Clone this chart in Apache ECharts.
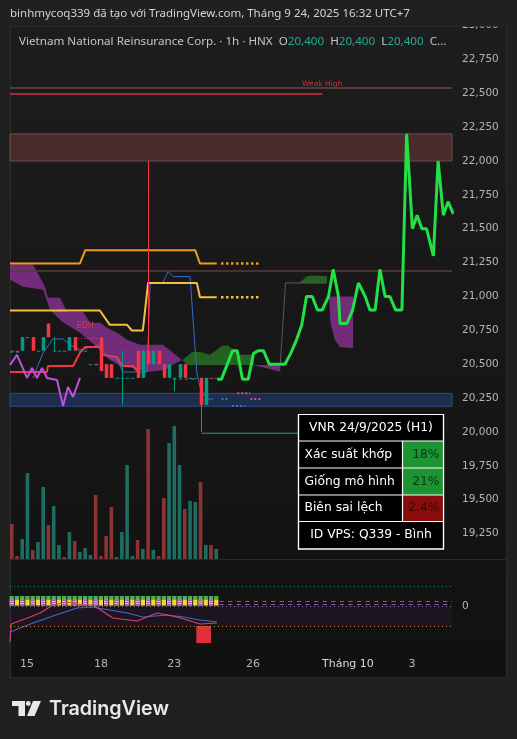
<!DOCTYPE html>
<html>
<head>
<meta charset="utf-8">
<script src="https://cdn.jsdelivr.net/npm/echarts@6.0.0/dist/echarts.min.js"></script>
<style>
html,body{margin:0;padding:0;background:#202020;overflow:hidden;}
#chart{width:517px;height:739px;}
</style>
</head>
<body>
<div id="chart"></div>
<script>
// ================= DATA =================
const timeLabelPos = [2.9, 17.0, 31.0, 46.0, 64.1, 76.3];
const timeLabels = ['15', '18', '23', '26', 'Tháng 10', '3'];

const barIndex = [0,1,2,3,4,5,6,7,8,9,10,11,12,13,14,15,16,17,18,19,20,21,22,23,24,25,26,27,28,29,30,31,32,33,34,35,36,37,38,39];
const candleOpen  = [20600,20600,20600,20700,20700,20600,20600,20800,20600,20600,20600,20600,20700,20600,20600,20500,20500,20700,20500,20500,20400,20400,20400,20400,20600,20400,20600,20500,20600,20500,20400,20400,20400,20500,20400,20400,20400,20200,20400,20400];
const candleClose = [20600,20600,20700,20700,20600,20600,20700,20700,20600,20600,20600,20700,20600,20600,20600,20500,20500,20450,20400,20400,20400,20400,20400,20400,20400,20600,20500,20600,20500,20400,20500,20400,20500,20400,20400,20400,20200,20400,20400,20400];
const candleHigh  = [20600,20600,20700,20700,20700,20600,20700,20800,20700,20600,20600,20700,20700,20600,20600,20500,20500,20700,20500,20500,20400,20600,20400,20400,20600,20600,22000,20600,20600,20500,20500,20400,20500,20500,20400,20400,20400,20400,20400,20400];
const candleLow   = [20600,20600,20600,20700,20600,20600,20600,20700,20600,20600,20600,20600,20600,20600,20600,20500,20500,20450,20400,20400,20400,20200,20400,20400,20400,20400,20500,20500,20500,20400,20400,20300,20400,20400,20400,20400,20000,20200,20400,20400];
const barDir      = [-1,-1,1,1,-1,1,1,-1,1,1,-1,1,-1,1,1,1,-1,-1,-1,-1,1,1,1,1,-1,1,-1,1,-1,-1,1,1,1,-1,1,1,-1,1,-1,1];
const volume      = [10500,900,6000,25800,2700,5100,21600,10200,15900,4200,600,8100,5400,2100,3300,1200,19200,900,6900,15600,600,8100,28200,900,5700,3000,39000,2700,900,18300,34800,39900,28200,15000,17400,17100,23100,4200,4200,3000];

// projected path (green)
const projIndex = [39.2,40.0,41.0,42.1,43.0,44.0,45.1,46.1,47.0,48.0,49.1,50.2,51.1,52.1,53.2,54.3,55.3,56.2,57.3,58.3,59.2,60.4,61.3,62.3,62.6,63.9,65.0,66.1,67.4,68.3,69.3,70.2,71.2,72.1,73.2,74.4,75.3,76.4,77.3,78.2,79.1,80.4,81.3,82.3,83.2,84.2];
const projPrice = [20390,20390,20490,20600,20600,20390,20390,20580,20600,20600,20500,20500,20500,20500,20580,20680,20790,21000,21000,20900,20900,21000,21200,21000,20800,20800,20900,21100,21000,20900,20900,21200,21000,21000,20900,20900,22200,21500,21600,21500,21500,21300,22000,21600,21700,21610];

// step lines
const orangeIndex = [-0.33,13.0,14.0,35.0,35.9,39.1];
const orangePrice = [21243,21243,21341,21341,21243,21243];
const orangeExtIndex = [39.9,47.5];
const orangeExtPrice = [21243,21243];
const yellowIndex = [-0.33,16.8,18.7,22.0,22.9,25.0,26.0,35.3,35.9,39.1];
const yellowPrice = [20897,20897,20791,20791,20749,20749,21100,21100,20995,20995];
const yellowExtIndex = [39.9,47.5];
const yellowExtPrice = [20995,20995];

const blueIndex = [4.06,5.97,7.87,9.78,11.1,13.0,16.8,18.2,20.1,21.2,25.8,26.4,28.8,29.8,30.8,34.0,35.3,35.9,37.2,38.4];
const bluePrice = [20399,20584,20687,20687,20643,20606,20643,20554,20532,20443,20443,21102,21102,21184,21147,21147,20436,20332,20243,20243];
const redIndex = [-0.33,6.7,6.9,11.7,13.0,14.0,16.8,17.4,20.1,21.0,23.1,24.1];
const redPrice = [20443,20443,20487,20487,20584,20628,20628,20569,20554,20487,20487,20443];
const magIndex = [-0.33,1.0,2.92,3.87,4.82,5.78,6.73,8.64,9.78,10.73,11.69,13.0];
const magPrice = [20495,20569,20399,20473,20399,20473,20399,20384,20191,20332,20258,20399];

// clouds  [index, price]
const cloudPurple1 = [[-0.33,21236],[4.06,21236],[6.35,21072],[6.92,20991],[9.21,20991],[10.54,20887],[13.59,20887],[14.93,20806],[16.84,20806],[18.17,20769],[20.08,20732],[21.98,20680],[24.46,20643],[28.85,20643],[32.47,20532],
  [30.56,20495],[29.23,20458],[25.8,20443],[23.13,20473],[21.22,20480],[18.74,20532],[16.26,20628],[13.02,20732],[9.59,20813],[7.3,20902],[5.97,21050],[2.15,21072],[-0.33,21124]];
const cloudGreen1 = [[32.5,20530],[34.4,20590],[35.9,20590],[37.8,20570],[40.1,20635],[41.2,20640],[42.2,20605],[43.5,20570],[46.2,20570],[46.2,20495],[33.5,20495]];
const cloudPurple2 = [[46.0,20495],[47.6,20480],[51.2,20445],[51.2,20495]];
const cloudGreen2 = [[54.8,21100],[56.3,21150],[57.3,21155],[60.1,21150],[60.1,21100]];
const cloudPurple3 = [[60.5,21000],[65.1,21000],[65.1,20620],[62.6,20625],[61.6,20680],[60.8,20800]];
const greyIndex = [51.2,52.2,60.1];
const greyPrice = [20495,21100,21100];

// levels
const weakHigh = 22495, weakHighEnd = 59.2;
const topLevel = 22540, midLevel = 21190;
const supplyZone = [22000, 22200];
const demandZone = [20190, 20285];
const eqhLevel = 20695, eqhFrom = 12.1, eqhTo = 16.3;
const tealDash = [[-0.33,2.0,20590],[15.8,17.0,20500],[30.8,35.3,20390]];
const calloutIndex = [36.2,54.6], calloutPrice = [19991,19991];
const blueDots = [[40.0,41.5,20243],[42.0,44.5,20191]];
const pinkDots = [[43.0,45.5,20286],[45.5,47.5,20243]];

// indicator pane
const oscBlueIndex = [-0.33,4.06,7.87,12.45,15.3,18.7,22.0,25.0,29.6,32.7,35.9,39.1];
const oscBlue      = [-26,-17,-10,-2,-1,-4,-7,-11,-9,-11,-14,-16];
const oscRedIndex  = [-0.33,-0.1,3.5,5.4,7.87,10.5,13.6,15.5,19.3,23.9,27.7,31.5,35.9,39.1];
const oscRed       = [-36,-18,-11,-7,1,4,1,1,-12,-15,-7,-11,-18,-17];
const stripMark    = [1,0,1,0,1,0,1,0,1,0,1,0,1,0,1,0,1,0,1,0,1,0,1,0,1,0,1,0,1,0,1,0,1,0,1,0,1,0,1,0];
const histBlock    = [[35.2,38.0,-20,-37]];

// table
const tableTitle = 'VNR 24/9/2025 (H1)';
const tableRows = [['Xác suất khớp','18%','g'],['Giống mô hình','21%','g'],['Biên sai lệch','2.4%','r']];
const tableFooter = 'ID VPS: Q339 - Bình';

// ================= CHART =================
const UP = '#089981', DN = '#f23645';
const X_MIN = -0.33, X_MAX = 83.95;

function fitFont(text, family, weight, target) {
  const c = document.createElement('canvas').getContext('2d');
  c.font = weight + ' 100px "' + family + '"';
  return 100 * target / c.measureText(text).width;
}
const pairs = (xs, ys) => xs.map((x, k) => [x, ys[k]]);

function polySeries(pts, fill) {
  return {
    type: 'custom', xAxisIndex: 0, yAxisIndex: 0, silent: true, z: 1,
    data: [pts[0]],
    renderItem: (params, api) => ({
      type: 'polygon',
      shape: { points: pts.map(p => api.coord(p)) },
      style: { fill: fill }
    })
  };
}
function lineSeries(data, color, width, type, z, xi, yi) {
  return {
    type: 'line', xAxisIndex: xi || 0, yAxisIndex: yi || 0, data: data, symbol: 'none',
    silent: true, z: z || 3, animation: false,
    lineStyle: { color: color, width: width, type: type || 'solid', cap: 'butt' }
  };
}

const series = [];
// marker series (zones & levels)
series.push({
  type: 'line', xAxisIndex: 0, yAxisIndex: 0, data: [], silent: true, z: 1,
  markArea: {
    silent: true,
    data: [
      [{ yAxis: supplyZone[0], itemStyle: { color: 'rgba(105,55,55,0.6)', borderColor: '#6e4a4a', borderWidth: 1 } }, { yAxis: supplyZone[1] }],
      [{ yAxis: demandZone[0], itemStyle: { color: 'rgba(38,66,120,0.55)', borderColor: '#2c4c86', borderWidth: 1 } }, { yAxis: demandZone[1] }]
    ]
  },
  markLine: {
    silent: true, symbol: ['none', 'none'], label: { show: false },
    data: [
      { yAxis: topLevel, lineStyle: { color: '#553a3a', width: 2, type: 'solid' } },
      { yAxis: midLevel, lineStyle: { color: '#583a3a', width: 1.5, type: 'solid' } },
      [{ coord: [X_MIN, weakHigh], lineStyle: { color: '#d3303e', width: 1.5, type: 'solid' } }, { coord: [weakHighEnd, weakHigh] }],
      [{ coord: [eqhFrom, eqhLevel], lineStyle: { color: '#e0405a', width: 1, type: [1, 2] } }, { coord: [eqhTo, eqhLevel] }]
    ]
  },
  markPoint: {
    silent: true, symbolSize: 0,
    data: [
      { coord: [weakHighEnd, weakHigh], label: { show: true, formatter: 'Weak High', position: 'top', distance: 6, color: '#c2394a', fontSize: 7.5, fontFamily: 'DejaVu Sans' } },
      { coord: [14.0, 20784], label: { show: true, formatter: 'EQH', position: 'inside', color: '#d83a5c', fontSize: 8, fontFamily: 'DejaVu Sans' } }
    ]
  }
});
// clouds
series.push(polySeries(cloudPurple1, 'rgba(140,50,150,0.78)'));
series.push(polySeries(cloudGreen1, 'rgba(40,110,35,0.85)'));
series.push(polySeries(cloudPurple2, 'rgba(140,50,150,0.78)'));
series.push(polySeries(cloudGreen2, 'rgba(40,110,35,0.85)'));
series.push(polySeries(cloudPurple3, 'rgba(140,50,150,0.78)'));
series.push(lineSeries(pairs(greyIndex, greyPrice), '#5a5a5a', 1, 'solid', 2));
// dashed teal markers
tealDash.forEach(d => series.push(lineSeries([[d[0], d[2]], [d[1], d[2]]], '#1f9a88', 1, [3, 3], 3)));
// step lines
series.push(lineSeries(pairs(blueIndex, bluePrice), '#3469d4', 1, 'solid', 3));
series.push(lineSeries(pairs(orangeIndex, orangePrice), '#f09a1c', 2, 'solid', 4));
series.push(lineSeries(pairs(orangeExtIndex, orangeExtPrice), '#f09a1c', 2.5, [2.5, 2.5], 4));
series.push(lineSeries(pairs(yellowIndex, yellowPrice), '#f3c23a', 2, 'solid', 4));
series.push(lineSeries(pairs(yellowExtIndex, yellowExtPrice), '#f3c23a', 2.5, [2.5, 2.5], 4));
series.push(lineSeries(pairs(redIndex, redPrice), '#f23645', 2, 'solid', 4));
series.push(lineSeries(pairs(magIndex, magPrice), '#c150dc', 2, 'solid', 4));
blueDots.forEach(d => series.push(lineSeries([[d[0], d[2]], [d[1], d[2]]], '#3b6fe0', 2, [2, 2], 4)));
pinkDots.forEach(d => series.push(lineSeries([[d[0], d[2]], [d[1], d[2]]], '#d0508a', 2, [2, 2], 4)));
series.push(lineSeries(pairs(calloutIndex, calloutPrice), '#1aa38c', 1, 'solid', 4));
// candles
series.push({
  type: 'custom', xAxisIndex: 0, yAxisIndex: 0, silent: true, z: 5,
  data: barIndex.map((x, k) => [x, candleOpen[k], candleClose[k], candleLow[k], candleHigh[k], barDir[k]]),
  encode: { x: 0, y: [1, 2, 3, 4] },
  renderItem: (params, api) => {
    const i = api.value(0), o = api.value(1), c = api.value(2), l = api.value(3), h = api.value(4), d = api.value(5);
    const pO = api.coord([i, o]), pC = api.coord([i, c]), pL = api.coord([i, l]), pH = api.coord([i, h]);
    const col = d > 0 ? UP : DN;
    const top = Math.min(pO[1], pC[1]);
    const bh = Math.max(1, Math.abs(pO[1] - pC[1]));
    const xc = Math.round(pO[0]) + 0.5;
    return {
      type: 'group', children: [
        { type: 'line', shape: { x1: xc, y1: pH[1], x2: xc, y2: pL[1] }, style: { stroke: col, lineWidth: 1 } },
        { type: 'rect', shape: { x: xc - 1.75, y: top, width: 3.5, height: bh }, style: { fill: col } }
      ]
    };
  }
});
// projection
series.push(lineSeries(pairs(projIndex, projPrice), '#22e046', 3, 'solid', 6));
// volume
series.push({
  type: 'bar', xAxisIndex: 1, yAxisIndex: 1, barWidth: 3.6, silent: true, z: 2,
  data: volume.map((v, k) => ({ value: [barIndex[k], v], itemStyle: { color: barDir[k] > 0 ? '#1f6d62' : '#8a3434' } }))
});
// indicator pane
series.push({
  type: 'line', xAxisIndex: 2, yAxisIndex: 2, data: [], silent: true,
  markArea: { silent: true, data: [[{ yAxis: -20, itemStyle: { color: 'rgba(95,45,115,0.14)' } }, { yAxis: 0 }]] },
  markLine: {
    silent: true, symbol: ['none', 'none'], label: { show: false },
    data: [
      { yAxis: 20, lineStyle: { color: '#2b7f78', width: 1, type: [1, 3] } },
      { yAxis: 0, lineStyle: { color: '#8a8a8a', width: 1, type: [1, 3] } },
      { yAxis: -20, lineStyle: { color: '#d88a2c', width: 1, type: [1, 3] } },
      [{ coord: [39.6, 5], lineStyle: { color: '#a846d0', width: 1.2, type: [4.3, 4.3] } }, { coord: [X_MAX, 5] }],
      [{ coord: [39.6, 2], lineStyle: { color: '#a846d0', width: 1.2, type: [4.3, 4.3] } }, { coord: [X_MAX, 2] }]
    ]
  }
});
series.push({
  type: 'custom', xAxisIndex: 2, yAxisIndex: 2, silent: true, z: 3,
  data: barIndex.map((x, k) => [x, stripMark[k]]),
  renderItem: (params, api) => {
    const i = api.value(0);
    const a = api.coord([i, 10]), b = api.coord([i, 6.6]), c = api.coord([i, 0.4]);
    const w = 4.3, x = a[0] - w / 2;
    const ch = [
      { type: 'rect', shape: { x: x, y: a[1], width: w, height: b[1] - a[1] }, style: { fill: '#4cb050' } },
      { type: 'rect', shape: { x: x, y: b[1], width: w, height: c[1] - b[1] }, style: { fill: '#efd63a' } }
    ];
    if (api.value(1) === 1) {
      [5.4, 3.4, 1.4].forEach(v => {
        const p = api.coord([i, v]);
        ch.push({ type: 'rect', shape: { x: p[0] - 1.8, y: p[1] - 0.5, width: 3.6, height: 1 }, style: { fill: '#a846d0' } });
      });
    }
    return { type: 'group', children: ch };
  }
});
series.push(lineSeries(pairs(oscBlueIndex, oscBlue), '#3d6bd0', 1.2, 'solid', 4, 2, 2));
series.push(lineSeries(pairs(oscRedIndex, oscRed), '#d8406e', 1.2, 'solid', 4, 2, 2));
series.push({
  type: 'custom', xAxisIndex: 2, yAxisIndex: 2, silent: true, z: 4,
  data: histBlock,
  renderItem: (params, api) => {
    const p1 = api.coord([api.value(0), api.value(2)]), p2 = api.coord([api.value(1), api.value(3)]);
    return { type: 'rect', shape: { x: p1[0], y: p1[1], width: p2[0] - p1[0], height: p2[1] - p1[1] }, style: { fill: '#e0303c' } };
  }
});

// ---------- graphics ----------
const wmText = 'binhmycoq339 đã tạo với TradingView.com, Tháng 9 24, 2025 16:32 UTC+7';
const wmSize = fitFont(wmText, 'Noto Sans', 'normal', 400);
const lgPlain = 'Vietnam National Reinsurance Corp. · 1h · HNX  O20,400  H20,400  L20,400  C...';
const lgSize = fitFont(lgPlain, 'Noto Sans', 'normal', 428);
const tvSize = fitFont('TradingView', 'Inter', '600', 120);
const TF = 'DejaVu Sans';
const tfs = fitFont(tableTitle, TF, 'normal', 124);

const tableEls = [];
const tx0 = 298.5, tx1 = 443.5, tcol = 402.5;
const rowsY = [414.5, 441, 468, 495, 521.5, 549];
tableEls.push({ type: 'rect', shape: { x: tx0, y: rowsY[0], width: tx1 - tx0, height: rowsY[5] - rowsY[0] }, style: { fill: '#000', stroke: '#fff', lineWidth: 1.2 }, z: 100 });
tableRows.forEach((r, k) => {
  const y0 = rowsY[k + 1], y1 = rowsY[k + 2];
  tableEls.push({ type: 'rect', shape: { x: tcol, y: y0, width: tx1 - tcol, height: y1 - y0 }, style: { fill: r[2] === 'g' ? '#1c9431' : '#8a0d0d' }, z: 101 });
  tableEls.push({ type: 'text', x: tx0 + 6, y: (y0 + y1) / 2, style: { text: r[0], fill: '#fff', font: tfs + 'px "' + TF + '"', verticalAlign: 'middle' }, z: 103 });
  tableEls.push({ type: 'text', x: tx1 - 4, y: (y0 + y1) / 2, style: { text: r[1], fill: r[2] === 'g' ? '#0f3517' : '#3a0606', font: tfs + 'px "' + TF + '"', align: 'right', verticalAlign: 'middle' }, z: 103 });
});
for (let k = 1; k <= 4; k++) {
  tableEls.push({ type: 'line', shape: { x1: tx0, y1: rowsY[k], x2: tx1, y2: rowsY[k] }, style: { stroke: '#fff', lineWidth: 1.2 }, z: 104 });
}
tableEls.push({ type: 'line', shape: { x1: tcol, y1: rowsY[1], x2: tcol, y2: rowsY[4] }, style: { stroke: '#fff', lineWidth: 1.2 }, z: 104 });
tableEls.push({ type: 'rect', shape: { x: tx0, y: rowsY[0], width: tx1 - tx0, height: rowsY[5] - rowsY[0] }, style: { fill: 'none', stroke: '#fff', lineWidth: 1.2 }, z: 104 });
tableEls.push({ type: 'text', x: (tx0 + tx1) / 2, y: (rowsY[0] + rowsY[1]) / 2, style: { text: tableTitle, fill: '#fff', font: tfs + 'px "' + TF + '"', align: 'center', verticalAlign: 'middle' }, z: 103 });
tableEls.push({ type: 'text', x: (tx0 + tx1) / 2, y: (rowsY[4] + rowsY[5]) / 2, style: { text: tableFooter, fill: '#fff', font: tfs + 'px "' + TF + '"', align: 'center', verticalAlign: 'middle' }, z: 103 });

const graphics = [
  { type: 'rect', shape: { x: 10.5, y: 26.5, width: 496, height: 651 }, style: { fill: new echarts.graphic.LinearGradient(0, 0, 0, 1, [{ offset: 0, color: '#1d1d1d' }, { offset: 1, color: '#111111' }]), stroke: '#2c2c2c', lineWidth: 1 }, z: -10 },
  { type: 'line', shape: { x1: 10.5, y1: 559.5, x2: 506.5, y2: 559.5 }, style: { stroke: '#2a2a2a', lineWidth: 1 }, z: -9 },
  { type: 'text', x: 10, y: 14, style: { text: wmText, fill: '#d4d4d4', font: wmSize + 'px "Noto Sans"', verticalAlign: 'middle' }, z: 50 },
  { type: 'text', x: 19, y: 42, style: {
      text: '{t|Vietnam National Reinsurance Corp. · 1h · HNX  O}{v|20,400}{t|  H}{v|20,400}{t|  L}{v|20,400}{t|  C...}',
      rich: { t: { fill: '#c3c6cc', font: lgSize + 'px "Noto Sans"' }, v: { fill: '#22ab94', font: lgSize + 'px "Noto Sans"' } },
      verticalAlign: 'middle' }, z: 50 },
  { type: 'text', x: 462, y: 25.3, style: { text: '23,000', fill: '#b2b5be', font: '10.5px "DejaVu Sans"', verticalAlign: 'middle' }, z: 60 },
  { type: 'rect', shape: { x: 453, y: 0, width: 64, height: 26.5 }, style: { fill: '#202020' }, z: 61 },
  // TradingView logo
  { type: 'rect', shape: { x: 12, y: 701, width: 13, height: 5 }, style: { fill: '#e8e8e8' }, z: 50 },
  { type: 'rect', shape: { x: 18.5, y: 701, width: 6.5, height: 15 }, style: { fill: '#e8e8e8' }, z: 50 },
  { type: 'circle', shape: { cx: 28.3, cy: 703.5, r: 2.4 }, style: { fill: '#e8e8e8' }, z: 50 },
  { type: 'polygon', shape: { points: [[33, 701], [41, 701], [34.5, 716], [27, 716]] }, style: { fill: '#e8e8e8' }, z: 50 },
  { type: 'text', x: 49, y: 709, style: { text: 'TradingView', fill: '#e8e8e8', font: '600 ' + tvSize + 'px "Inter"', verticalAlign: 'middle' }, z: 50 }
].concat(tableEls);

const chart = echarts.init(document.getElementById('chart'), null, { renderer: 'canvas' });
const hiddenX = (gi) => ({ type: 'value', gridIndex: gi, min: X_MIN, max: X_MAX, show: false });
chart.setOption({
  animation: false,
  backgroundColor: '#202020',
  grid: [
    { left: 10, top: 25.5, width: 442, height: 542 },
    { left: 10, top: 419, width: 442, height: 140 },
    { left: 10, top: 560, width: 442, height: 86 }
  ],
  xAxis: [
    hiddenX(0), hiddenX(1),
    {
      type: 'value', gridIndex: 2, min: X_MIN, max: X_MAX,
      axisLine: { show: false }, axisTick: { show: false }, splitLine: { show: false },
      axisLabel: {
        customValues: timeLabelPos, margin: 13,
        formatter: (v) => {
          let k = 0, best = 1e9;
          timeLabelPos.forEach((p, j) => { if (Math.abs(p - v) < best) { best = Math.abs(p - v); k = j; } });
          return timeLabels[k] === 'Tháng 10' ? '{b|Tháng 10}' : timeLabels[k];
        },
        color: '#b2b5be', fontSize: 11, fontFamily: 'DejaVu Sans',
        rich: { b: { color: '#dadce2', fontSize: 11, fontFamily: 'DejaVu Sans' } }
      }
    }
  ],
  yAxis: [
    {
      type: 'value', gridIndex: 0, position: 'right', min: 19000, max: 23000, interval: 250,
      axisLine: { show: false }, axisTick: { show: false }, splitLine: { show: false },
      axisLabel: { margin: 10, color: '#b2b5be', fontSize: 10.5, fontFamily: 'DejaVu Sans', align: 'left',
        formatter: (v) => (v <= 19000 || v >= 23000) ? '' : v.toLocaleString('en-US') }
    },
    { type: 'value', gridIndex: 1, min: 0, max: 42000, show: false },
    {
      type: 'value', gridIndex: 2, position: 'right', min: -40, max: 46, interval: 20,
      axisLine: { show: false }, axisTick: { show: false }, splitLine: { show: false },
      axisLabel: { margin: 10, color: '#b2b5be', fontSize: 10.5, fontFamily: 'DejaVu Sans', align: 'left',
        formatter: (v) => v === 0 ? '0' : '' }
    }
  ],
  graphic: { elements: graphics },
  series: series
});
</script>
</body>
</html>
